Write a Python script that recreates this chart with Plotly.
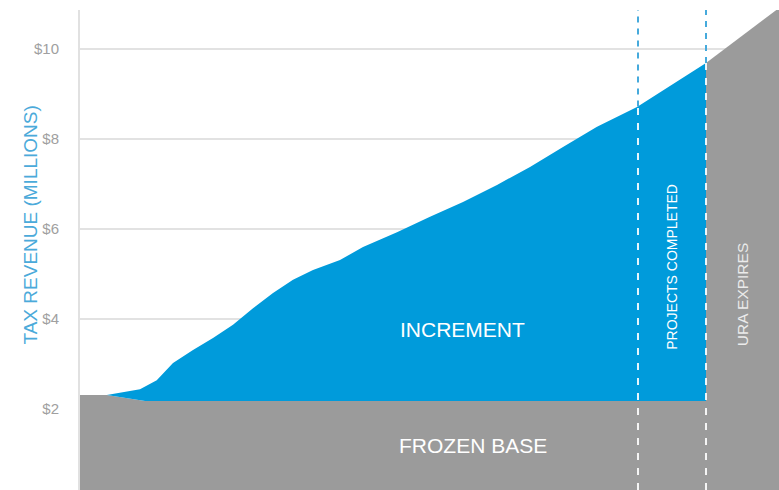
import numpy as np
import plotly.graph_objects as go

# ---- data (x in years from start, y in $ millions) ----
increment_x = [1.07, 1.72, 2.4, 3.07, 3.72, 4.52, 5.32, 6.12, 6.92, 7.72, 8.52, 9.32,
               10.4, 11.32, 12.68, 14.0, 15.32, 16.68, 18.0, 19.32, 20.68, 22.28, 25.04]
increment_y = [2.30, 2.37, 2.43, 2.63, 3.01, 3.30, 3.57, 3.86, 4.23, 4.57, 4.86, 5.08,
               5.30, 5.59, 5.92, 6.26, 6.59, 6.97, 7.37, 7.81, 8.26, 8.70, 9.68]

base_x = [0.0, 1.07, 2.6, 25.04]
base_y = [2.30, 2.30, 2.17, 2.17]

expiry_x = [25.04, 27.96]
expiry_y = [9.68, 10.90]

milestones_x = [22.32, 25.04]

tick_vals = [2, 4, 6, 8, 10]
tick_text = ["$2", "$4", "$6", "$8", "$10"]

X_RANGE = [0, 27.96]
Y_RANGE = [0.19, 10.856]

BLUE = "rgb(0,155,219)"
GRAY = "rgb(155,155,155)"
DASH_BLUE = "rgb(70,170,220)"
FONT = "Liberation Sans Narrow, Liberation Sans, Arial, sans-serif"

fig = go.Figure()

# frozen base
fig.add_trace(go.Scatter(
    x=base_x, y=base_y, mode="lines", line=dict(width=0),
    fill="tozeroy", fillcolor=GRAY, hoverinfo="skip", showlegend=False))

# increment area (curve on top, base underneath)
bx = np.array(base_x)
by = np.array(base_y)
mask = (bx > increment_x[0]) & (bx < increment_x[-1])
lower_x = [increment_x[-1]] + list(bx[mask][::-1]) + [increment_x[0]]
lower_y = [float(np.interp(increment_x[-1], bx, by))] + list(by[mask][::-1]) + \
          [float(np.interp(increment_x[0], bx, by))]
fig.add_trace(go.Scatter(
    x=increment_x + lower_x, y=increment_y + lower_y, mode="lines",
    line=dict(width=0), fill="toself", fillcolor=BLUE,
    hoverinfo="skip", showlegend=False))

# URA expired region
fig.add_trace(go.Scatter(
    x=[expiry_x[0]] + expiry_x + [expiry_x[-1]],
    y=[0] + expiry_y + [0], mode="lines", line=dict(width=0),
    fill="toself", fillcolor=GRAY, hoverinfo="skip", showlegend=False))

# milestone dashed lines
shapes = []
for mx in milestones_x:
    top = float(np.interp(mx, increment_x, increment_y))
    shapes.append(dict(type="line", xref="x", yref="y", x0=mx, x1=mx,
                       y0=top, y1=Y_RANGE[1], layer="above",
                       line=dict(color=DASH_BLUE, width=2, dash="6px,6px")))
    shapes.append(dict(type="line", xref="x", yref="y", x0=mx, x1=mx,
                       y0=Y_RANGE[0], y1=top, layer="above",
                       line=dict(color="rgba(255,255,255,0.9)", width=2, dash="7px,8px")))

annotations = [
    dict(text="TAX REVENUE (MILLIONS)", xref="paper", yref="paper",
         x=-80 / 699 + 18 / 699, y=(490 - 225) / 480, textangle=-90,
         showarrow=False, font=dict(family=FONT, size=19, color="rgb(75,170,218)")),
    dict(text="INCREMENT", x=15.28, y=3.75, showarrow=False,
         font=dict(family=FONT, size=21, color="white")),
    dict(text="FROZEN BASE", x=15.7, y=1.17, showarrow=False,
         font=dict(family=FONT, size=21, color="white")),
    dict(text="PROJECTS COMPLETED", x=23.68, y=5.15, textangle=-90, showarrow=False,
         font=dict(family=FONT, size=14, color="white")),
    dict(text="URA EXPIRES", x=26.48, y=4.52, textangle=-90, showarrow=False,
         font=dict(family=FONT, size=15.5, color="rgb(235,235,235)")),
]

fig.update_layout(
    width=779, height=490,
    margin=dict(l=80, r=0, t=10, b=0),
    paper_bgcolor="white", plot_bgcolor="white",
    showlegend=False,
    shapes=shapes,
    annotations=annotations,
    xaxis=dict(range=X_RANGE, showgrid=False, zeroline=False,
               showticklabels=False, showline=False, fixedrange=True),
    yaxis=dict(range=Y_RANGE, tickvals=tick_vals, ticktext=tick_text,
               showgrid=True, gridcolor="rgb(226,226,226)", gridwidth=2,
               zeroline=False, showline=True, linecolor="rgb(225,225,225)",
               linewidth=2, ticks="", ticklabelstandoff=16,
               tickfont=dict(family=FONT, size=15, color="rgb(160,160,160)")),
)

fig.write_html(
    "out.html",
    config={"displayModeBar": False},
    post_script="document.body.style.margin='0';document.body.style.padding='0';"
                "document.body.style.overflow='hidden';",
)
